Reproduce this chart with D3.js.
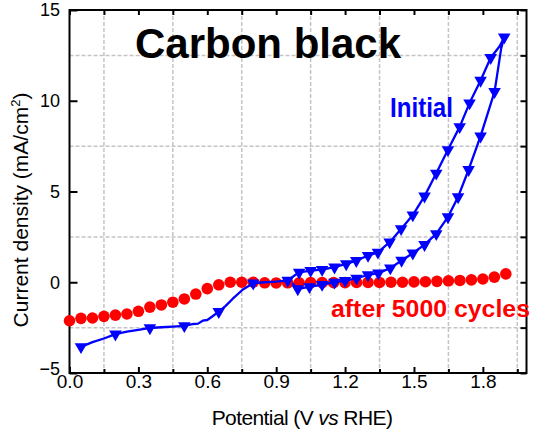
<!DOCTYPE html>
<html lang="en">
<head>
  <meta charset="UTF-8">
  <title>Carbon black</title>
  <script src="https://d3js.org/d3.v7.min.js"></script>
  <style>
    body { margin: 0; background: #fff; }
    svg { display: block; font-family: "Liberation Sans", Arial, sans-serif; }
    .grid line { stroke: #c4c4c4; stroke-width: 1.5; stroke-dasharray: 4,2; }
  </style>
</head>
<body>
<div id="chart"></div>
<script>
  // tick labels
  const xTicks = [0.0, 0.3, 0.6, 0.9, 1.2, 1.5, 1.8];
  const xMinorTicks = [0.15, 0.45, 0.75, 1.05, 1.35, 1.65, 1.95];
  const yTicks = [-5, 0, 5, 10, 15];
  const yMinorTicks = [-2.5, 2.5, 7.5, 12.5];

  // after 5000 cycles (red circles)
  const cycledV = [0.00, 0.05, 0.10, 0.15, 0.20, 0.25, 0.30, 0.35, 0.40, 0.45, 0.50, 0.55, 0.60,
    0.65, 0.70, 0.75, 0.80, 0.85, 0.90, 0.95, 1.00, 1.05, 1.10, 1.15, 1.20, 1.25, 1.30,
    1.35, 1.40, 1.45, 1.50, 1.55, 1.60, 1.65, 1.70, 1.75, 1.80, 1.85, 1.90];
  const cycledJ = [-2.12, -1.99, -1.97, -1.88, -1.81, -1.75, -1.60, -1.37, -1.25, -1.10, -0.92, -0.65, -0.35,
    -0.14, 0.00, 0.00, 0.00, -0.03, -0.04, -0.03, -0.03, -0.02, -0.02, -0.02, -0.02, -0.01, -0.01,
    -0.01, 0.00, 0.00, 0.02, 0.03, 0.05, 0.08, 0.10, 0.13, 0.18, 0.28, 0.46];

  // initial CV trace (blue line)
  const initialLine = [
    [0.05, -3.56], [0.10, -3.30], [0.15, -3.10], [0.20, -2.86], [0.25, -2.72], [0.30, -2.62],
    [0.35, -2.52], [0.40, -2.48], [0.45, -2.44], [0.50, -2.40], [0.54, -2.30], [0.56, -2.28],
    [0.58, -2.12], [0.60, -2.08], [0.62, -1.90], [0.65, -1.62], [0.68, -1.30], [0.71, -0.92],
    [0.755, -0.40], [0.80, -0.05], [0.85, 0.00], [0.90, 0.04], [0.95, 0.10],
    [1.00, 0.55], [1.05, 0.64], [1.10, 0.70], [1.154, 0.83], [1.205, 1.01], [1.249, 1.19],
    [1.30, 1.47], [1.343, 1.65], [1.394, 2.21], [1.444, 2.94], [1.495, 3.70], [1.546, 4.74],
    [1.597, 6.00], [1.648, 7.30], [1.699, 8.56], [1.742, 9.87], [1.79, 11.12], [1.834, 12.37],
    [1.873, 13.0], [1.893, 13.5],
    [1.88, 12.9], [1.851, 10.5], [1.79, 8.05], [1.738, 6.20], [1.692, 4.70], [1.648, 3.60],
    [1.597, 2.67], [1.546, 2.07], [1.495, 1.60], [1.446, 1.20], [1.397, 0.78], [1.345, 0.50],
    [1.30, 0.40], [1.25, 0.22], [1.20, 0.09], [1.154, 0.00], [1.10, -0.13], [1.045, -0.25],
    [0.994, -0.37], [0.97, -0.05]
  ];
  // initial CV trace (blue triangle markers)
  const initialMarkers = [
    [0.05, -3.56], [0.20, -2.86], [0.35, -2.52], [0.50, -2.40], [0.65, -1.62], [0.80, -0.05],
    [0.95, 0.10],
    [1.00, 0.55], [1.05, 0.64], [1.10, 0.70], [1.154, 0.83], [1.205, 1.01], [1.249, 1.19],
    [1.30, 1.47], [1.343, 1.65], [1.394, 2.21], [1.444, 2.94], [1.495, 3.70], [1.546, 4.74],
    [1.597, 6.00], [1.648, 7.30], [1.699, 8.56], [1.742, 9.87], [1.79, 11.12], [1.834, 12.37],
    [1.893, 13.5],
    [1.851, 10.5], [1.79, 8.05], [1.738, 6.20], [1.692, 4.70], [1.648, 3.60],
    [1.597, 2.67], [1.546, 2.07], [1.495, 1.60], [1.446, 1.20], [1.397, 0.78], [1.345, 0.50],
    [1.30, 0.40], [1.25, 0.22], [1.20, 0.09], [1.154, 0.00], [1.10, -0.13], [1.045, -0.25],
    [0.994, -0.37]
  ];

  const W = 538, H = 434;
  const pL = 69.5, pR = 526.5, pT = 10, pB = 373;

  const svg = d3.select("#chart").append("svg")
    .attr("width", W)
    .attr("height", H);

  const x = d3.scaleLinear().domain([0, 1.99]).range([pL, pR]);
  const y = d3.scaleLinear().domain([-5, 15]).range([pB, pT]);

  // dashed grid
  const grid = svg.append("g").attr("class", "grid");
  grid.selectAll(".gx").data(xMinorTicks).join("line")
    .attr("class", "gx")
    .attr("x1", d => x(d)).attr("x2", d => x(d))
    .attr("y1", pT).attr("y2", pB);
  grid.selectAll(".gy").data(yMinorTicks).join("line")
    .attr("class", "gy")
    .attr("x1", pL).attr("x2", pR)
    .attr("y1", d => y(d)).attr("y2", d => y(d));

  // axes (ticks point inward)
  function styleAxis(g) {
    g.select(".domain").remove();
    g.selectAll("line").attr("stroke", "#000").attr("stroke-width", 2);
    g.attr("font-family", null).attr("font-size", null);
  }

  svg.append("g")
    .attr("transform", `translate(0,${pB})`)
    .call(d3.axisBottom(x).tickValues(xTicks).tickSize(-6).tickPadding(1).tickFormat(d3.format(".1f")))
    .call(styleAxis)
    .selectAll("text").attr("font-size", 19).attr("fill", "#000");

  svg.append("g")
    .attr("transform", `translate(0,${pB})`)
    .call(d3.axisBottom(x).tickValues(xMinorTicks).tickSize(-4).tickFormat(""))
    .call(styleAxis);

  svg.append("g")
    .attr("transform", `translate(0,${pT})`)
    .call(d3.axisTop(x).tickValues(xTicks.concat(xMinorTicks)).tickSize(-5).tickFormat(""))
    .call(styleAxis);

  const yAxisG = svg.append("g")
    .attr("transform", `translate(${pL},0)`)
    .call(d3.axisLeft(y).tickValues(yTicks).tickSize(-8).tickPadding(9.5).tickFormat(d3.format("d")))
    .call(styleAxis);
  yAxisG.selectAll("text").attr("font-size", 18).attr("fill", "#000");
  // lowest label sits a little higher, clear of "0.0"
  yAxisG.selectAll("text").filter(d => d === -5).attr("dy", "0.1em");

  svg.append("g")
    .attr("transform", `translate(${pR},0)`)
    .call(d3.axisRight(y).tickValues(yTicks.concat(yMinorTicks)).tickSize(-6).tickFormat(""))
    .call(styleAxis);

  // frame
  svg.append("rect")
    .attr("x", pL).attr("y", pT)
    .attr("width", pR - pL).attr("height", pB - pT)
    .attr("fill", "none").attr("stroke", "#000").attr("stroke-width", 2);

  // after 5000 cycles
  svg.append("g").selectAll("circle")
    .data(cycledV.map((v, i) => [v, cycledJ[i]]))
    .join("circle")
    .attr("cx", d => x(d[0]))
    .attr("cy", d => y(d[1]))
    .attr("r", 5.8)
    .attr("fill", "#ff0000");

  // initial
  const line = d3.line().x(d => x(d[0])).y(d => y(d[1]));
  svg.append("path")
    .datum(initialLine)
    .attr("d", line)
    .attr("fill", "none")
    .attr("stroke", "#0000ff")
    .attr("stroke-width", 2.3)
    .attr("stroke-linejoin", "round");

  const tri = d3.symbol().type(d3.symbolTriangle).size(68);
  svg.append("g").selectAll("path")
    .data(initialMarkers)
    .join("path")
    .attr("d", tri)
    .attr("transform", d => `translate(${x(d[0])},${y(d[1])}) rotate(180)`)
    .attr("fill", "#0000ff");

  // labels
  svg.append("text")
    .attr("x", 135).attr("y", 57.5)
    .attr("font-size", 42).attr("font-weight", "bold")
    .attr("fill", "#000")
    .text("Carbon black");

  svg.append("text")
    .attr("x", 390).attr("y", 116.5)
    .attr("font-size", 27).attr("font-weight", "bold")
    .attr("textLength", 63).attr("lengthAdjust", "spacingAndGlyphs")
    .attr("fill", "#0000ff")
    .text("Initial");

  svg.append("text")
    .attr("x", 331).attr("y", 316.5)
    .attr("font-size", 23).attr("font-weight", "bold")
    .attr("textLength", 199).attr("lengthAdjust", "spacingAndGlyphs")
    .attr("fill", "#ff0000")
    .text("after 5000 cycles");

  // axis titles
  const xTitle = svg.append("text")
    .attr("x", 302).attr("y", 425)
    .attr("text-anchor", "middle")
    .attr("font-size", 21)
    .attr("letter-spacing", -0.6)
    .attr("fill", "#000");
  xTitle.append("tspan").text("Potential (V ");
  xTitle.append("tspan").attr("font-style", "italic").text("vs");
  xTitle.append("tspan").text(" RHE)");

  const yTitle = svg.append("text")
    .attr("transform", "translate(28,210) rotate(-90)")
    .attr("text-anchor", "middle")
    .attr("font-size", 21)
    .attr("fill", "#000");
  yTitle.append("tspan").text("Current density (mA/cm");
  yTitle.append("tspan").attr("font-size", 13).attr("dy", -8).text("2");
  yTitle.append("tspan").attr("dy", 8).text(")");
</script>
</body>
</html>
